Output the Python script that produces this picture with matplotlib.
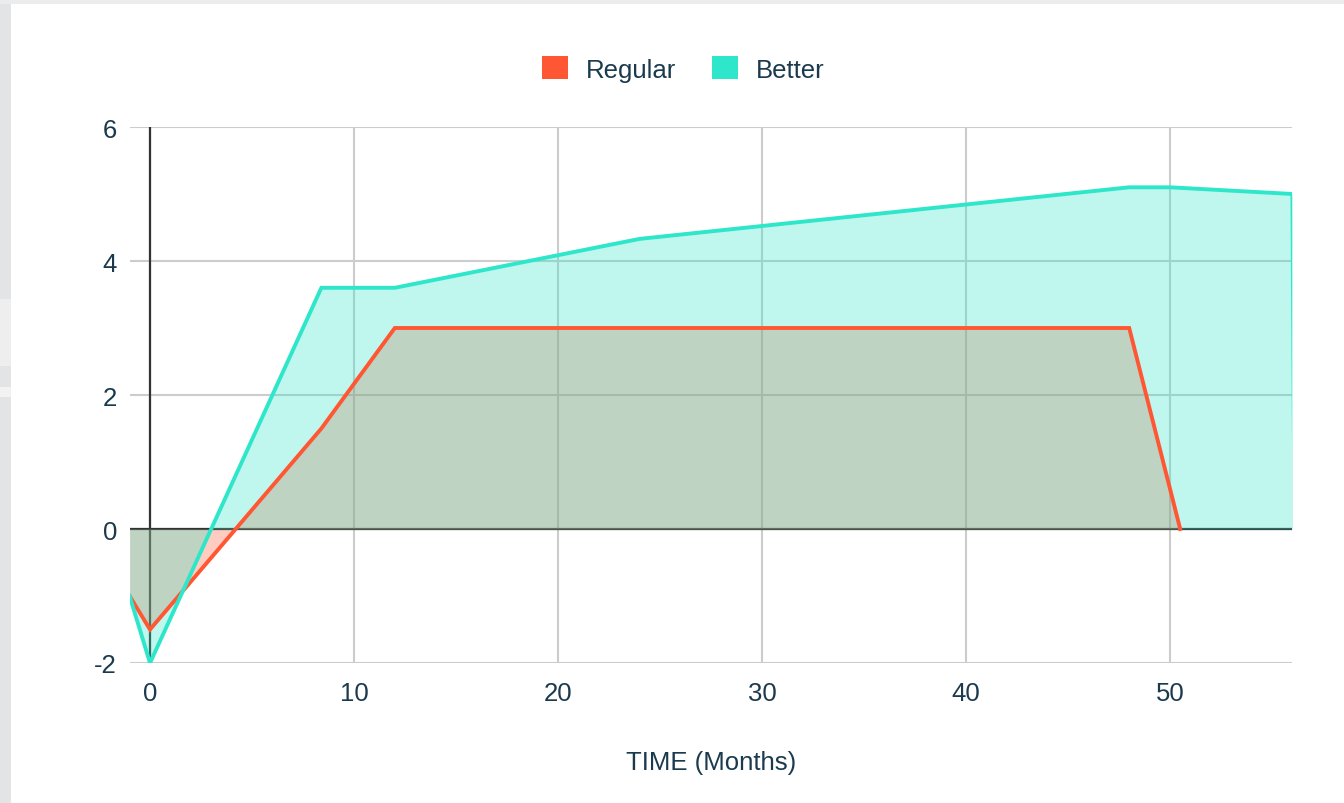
import matplotlib.pyplot as plt
from matplotlib.patches import Patch, Rectangle

# ===========================
# Data
# ===========================

time_regular = [-1, 0, 8.4, 12, 48, 50.5]
regular = [-1, -1.5, 1.5, 3, 3, 0]

time_better = [-1, 0, 8.4, 12, 24, 48, 50, 56, 56.1]
better = [-1, -2, 3.6, 3.6, 4.33, 5.1, 5.1, 5.0, 0]

series_names = ["Regular", "Better"]
x_ticks = [0, 10, 20, 30, 40, 50]
y_ticks = [-2, 0, 2, 4, 6]

RED = "#ff5733"
TEAL = "#2ee6c9"
TEXT = "#1b3a4e"
GRID = "#cccccc"

plt.rcParams["font.family"] = ["Liberation Sans", "DejaVu Sans"]

# ===========================
# Figure / card background
# ===========================

W, H = 1344, 804
fig = plt.figure(figsize=(W / 100, H / 100), dpi=100)
fig.patch.set_facecolor("white")

# page behind the card
fig.patches.append(Rectangle((0, 0), 11 / W, 1, transform=fig.transFigure,
                             facecolor="#e3e4e6", edgecolor="none", zorder=0))
fig.patches.append(Rectangle((0, 1 - 5 / H), 1, 5 / H, transform=fig.transFigure,
                             facecolor="#ececec", edgecolor="none", zorder=0))
fig.patches.append(Rectangle((0, 1 - 367 / H), 11 / W, 67 / H, transform=fig.transFigure,
                             facecolor="#eeeeef", edgecolor="none", zorder=0))
fig.patches.append(Rectangle((0, 1 - 398 / H), 11 / W, 10 / H, transform=fig.transFigure,
                             facecolor="#f2f2f3", edgecolor="none", zorder=0))

# ===========================
# Plot
# ===========================

ax = fig.add_axes([129.6 / W, 1 - 664 / H, 1162.8 / W, 536 / H])
ax.set_facecolor("none")

ax.fill_between(time_regular, regular, 0, color=RED, alpha=0.3, lw=0, zorder=2)
ax.fill_between(time_better, better, 0, color=TEAL, alpha=0.3, lw=0, zorder=3)
ax.plot(time_regular, regular, color=RED, lw=2.8, zorder=5, solid_joinstyle="miter")
ax.plot(time_better, better, color=TEAL, lw=2.8, zorder=6, solid_joinstyle="miter")

# baselines
ax.axhline(0, color="#333333", lw=1.6, zorder=1.5)
ax.axvline(0, color="#333333", lw=1.6, zorder=1.5)

ax.set_xlim(-1, 56)
ax.set_ylim(-2, 6)
ax.set_xticks(x_ticks)
ax.set_yticks(y_ticks)
ax.set_yticklabels([str(v) for v in y_ticks])

ax.grid(True, color=GRID, lw=1.5, zorder=1)
ax.set_axisbelow(True)
for s in ax.spines.values():
    s.set_visible(False)

ax.tick_params(axis="both", length=0, labelsize=18.5, labelcolor=TEXT)
ax.tick_params(axis="x", pad=13)
ax.tick_params(axis="y", pad=9)

ax.set_xlabel("TIME (Months)", fontsize=18.5, color=TEXT)
ax.xaxis.set_label_coords(0.5, -(763 - 664) / 536)
ax.xaxis.label.set_va("center")

# ===========================
# Legend
# ===========================

handles = [Patch(facecolor=RED, edgecolor="none"), Patch(facecolor=TEAL, edgecolor="none")]
leg = fig.legend(handles, series_names, loc="center", ncol=2,
                 bbox_to_anchor=(683.5 / W, 1 - 70 / H), frameon=False,
                 fontsize=18.5, handlelength=1.0, handleheight=1.0,
                 handletextpad=0.7, columnspacing=1.4, borderpad=0)
for t in leg.get_texts():
    t.set_color(TEXT)

plt.savefig("out.png", dpi=100)
plt.close()
